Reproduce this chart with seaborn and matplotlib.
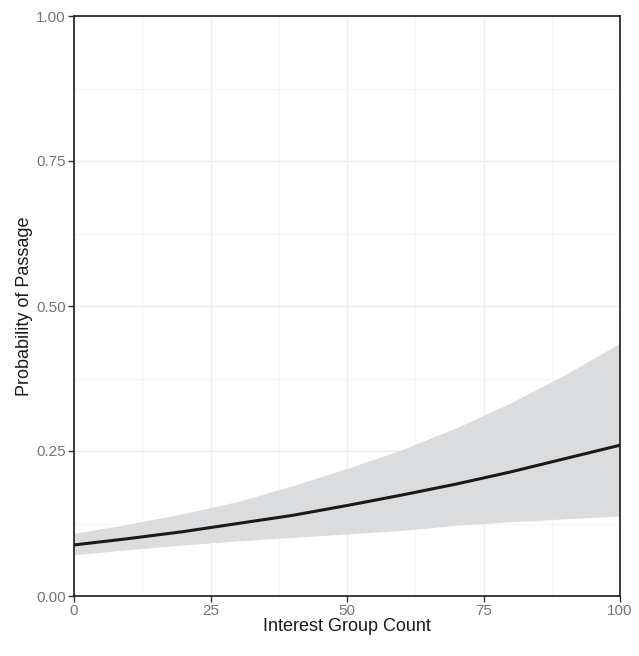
import matplotlib
matplotlib.use("Agg")
from matplotlib import pyplot as plt
import pandas as pd
import seaborn as sns

# values
group_count = [0, 10, 20, 30, 40, 50, 60, 70, 80, 90, 100]
prob_fit = [0.088, 0.099, 0.111, 0.125, 0.139, 0.156, 0.174, 0.193, 0.214, 0.237, 0.260]
prob_upper = [0.108, 0.124, 0.142, 0.163, 0.190, 0.220, 0.252, 0.290, 0.333, 0.382, 0.436]
prob_lower = [0.071, 0.080, 0.088, 0.095, 0.101, 0.107, 0.113, 0.122, 0.128, 0.133, 0.138]

x_ticks = [0, 25, 50, 75, 100]
y_ticks = [0.00, 0.25, 0.50, 0.75, 1.00]

df = pd.DataFrame({"count": group_count, "fit": prob_fit,
                   "upper": prob_upper, "lower": prob_lower})

sns.set_theme(style="white")
plt.rcParams["font.family"] = ["Liberation Sans", "DejaVu Sans"]

fig = plt.figure(figsize=(6.39, 6.56), dpi=100)
ax = fig.add_axes([74 / 639, 60 / 656, 546 / 639, 580 / 656])

# grid like ggplot theme_bw
for v in [12.5, 37.5, 62.5, 87.5]:
    ax.axvline(v, color="#f4f4f4", lw=0.6, zorder=0)
for v in x_ticks:
    ax.axvline(v, color="#ededed", lw=1.0, zorder=0)
for v in [0.125, 0.375, 0.625, 0.875]:
    ax.axhline(v, color="#f4f4f4", lw=0.6, zorder=0)
for v in y_ticks:
    ax.axhline(v, color="#ededed", lw=1.0, zorder=0)

ax.fill_between(df["count"], df["lower"], df["upper"],
                color="#dbdcdd", lw=0, zorder=1)
sns.lineplot(data=df, x="count", y="fit", color="#1a1a1a", lw=2.2,
             ax=ax, zorder=2)

ax.set_xlim(0, 100)
ax.set_ylim(0, 1)
ax.set_xticks(x_ticks)
ax.set_xticklabels([str(v) for v in x_ticks])
ax.set_yticks(y_ticks)
ax.set_yticklabels(["%.2f" % v for v in y_ticks])
ax.tick_params(axis="both", which="major", direction="out", length=4,
               width=1, color="#333333", labelcolor="#757575",
               labelsize=11, pad=2, bottom=True, left=True)
for s in ax.spines.values():
    s.set_color("#1a1a1a")
    s.set_linewidth(1.2)

ax.set_xlabel("Interest Group Count", fontsize=13, color="#1a1a1a", labelpad=0)
ax.set_ylabel("Probability of Passage", fontsize=13, color="#1a1a1a", labelpad=2)

plt.savefig("out.png", dpi=100)
